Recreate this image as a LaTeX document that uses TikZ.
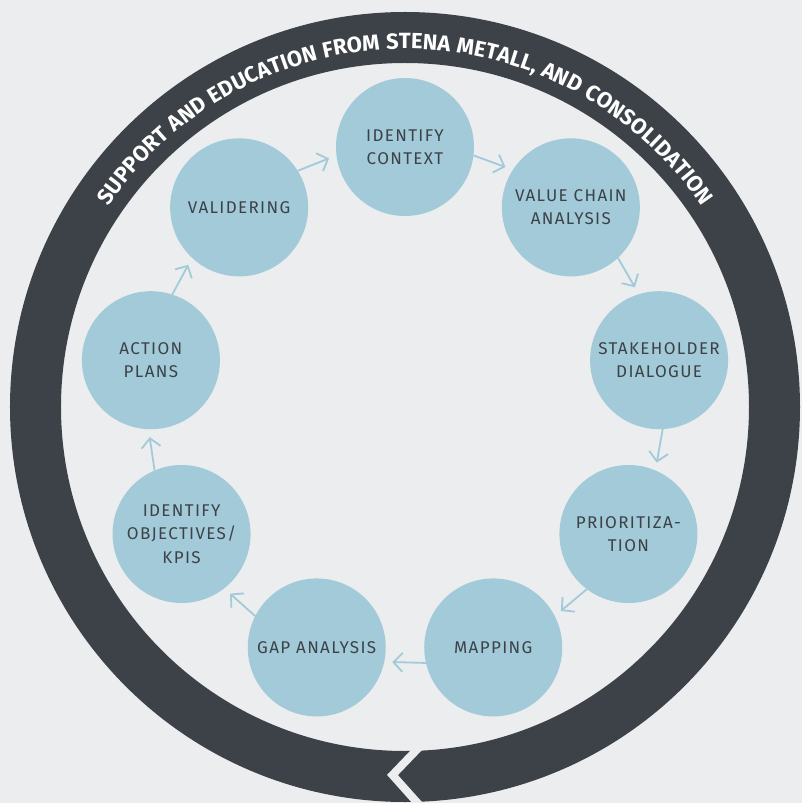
\documentclass[tikz,border=0pt]{standalone}
\usepackage{fontspec}
\setmainfont{Fira Sans}
\newfontfamily\circfont[LetterSpace=8]{Fira Sans}
\newfontfamily\ringfont[LetterSpace=4]{Fira Sans}
\usetikzlibrary{arrows.meta,decorations.text}
\definecolor{bgc}{HTML}{EBEDEF}
\definecolor{ringc}{HTML}{3D4248}
\definecolor{circc}{HTML}{A3CAD8}
\definecolor{txtc}{HTML}{3C4248}
\definecolor{arrc}{HTML}{A3CAD8}
\begin{document}
\begin{tikzpicture}[x=1pt,y=1pt,
  stage/.style={circle, fill=circc, minimum size=138pt, inner sep=0pt, outer sep=0pt,
    align=center, text=txtc, font=\circfont\fontsize{17pt}{23.3pt}\selectfont},
  flow/.style={draw=arrc, line width=1.8pt, -{Straight Barb[length=9pt,width=19pt]}, shorten >=8pt}]
\fill[bgc] (-405,-397) rectangle (397,406);
\useasboundingbox (-405,-397) rectangle (397,406);
% ring
\fill[ringc, even odd rule] (0,-1) circle[radius=395] (0,-1) circle[radius=344];
\draw[bgc, line width=8pt, line join=miter, miter limit=10] (16.3,-339) -- (-12.5,-369) -- (15.2,-400);
\path[decorate, decoration={text along path, text color=white, text align=center,
  text={|\ringfont\bfseries\fontsize{22pt}{26pt}\selectfont|SUPPORT AND EDUCATION FROM STENA METALL{,} AND CONSOLIDATION}}]
  (0,-1) ++(155:358) arc[start angle=155, end angle=25, radius=358];
% stages
\begin{scope}[shift={(0,1)}]
\node[stage] (ic)  at (90:258)   {IDENTIFY\\CONTEXT};
\node[stage] (vc)  at (50:258)   {VALUE CHAIN\\ANALYSIS};
\node[stage] (sd)  at (10:258)   {STAKEHOLDER\\DIALOGUE};
\node[stage] (pri) at (-30:258)  {PRIORITIZA-\\TION};
\node[stage] (map) at (-70:258)  {MAPPING};
\node[stage] (gap) at (-110:258) {GAP ANALYSIS};
\node[stage] (obj) at (-150:258) {IDENTIFY\\OBJECTIVES/\\KPIS};
\node[stage] (ap)  at (170:258)  {ACTION\\PLANS};
\node[stage] (val) at (130:258)  {VALIDERING};
\end{scope}
\foreach \s/\t/\a [evaluate=\a as \b using \a-97.7, evaluate=\a as \c using \a+57.7] in
  {ic/vc/90, vc/sd/50, sd/pri/10, pri/map/-30, map/gap/-70, gap/obj/-110, obj/ap/-150, ap/val/170, val/ic/130}
  \draw[flow] (\s.\b) -- (\t.\c);
\end{tikzpicture}
\end{document}
